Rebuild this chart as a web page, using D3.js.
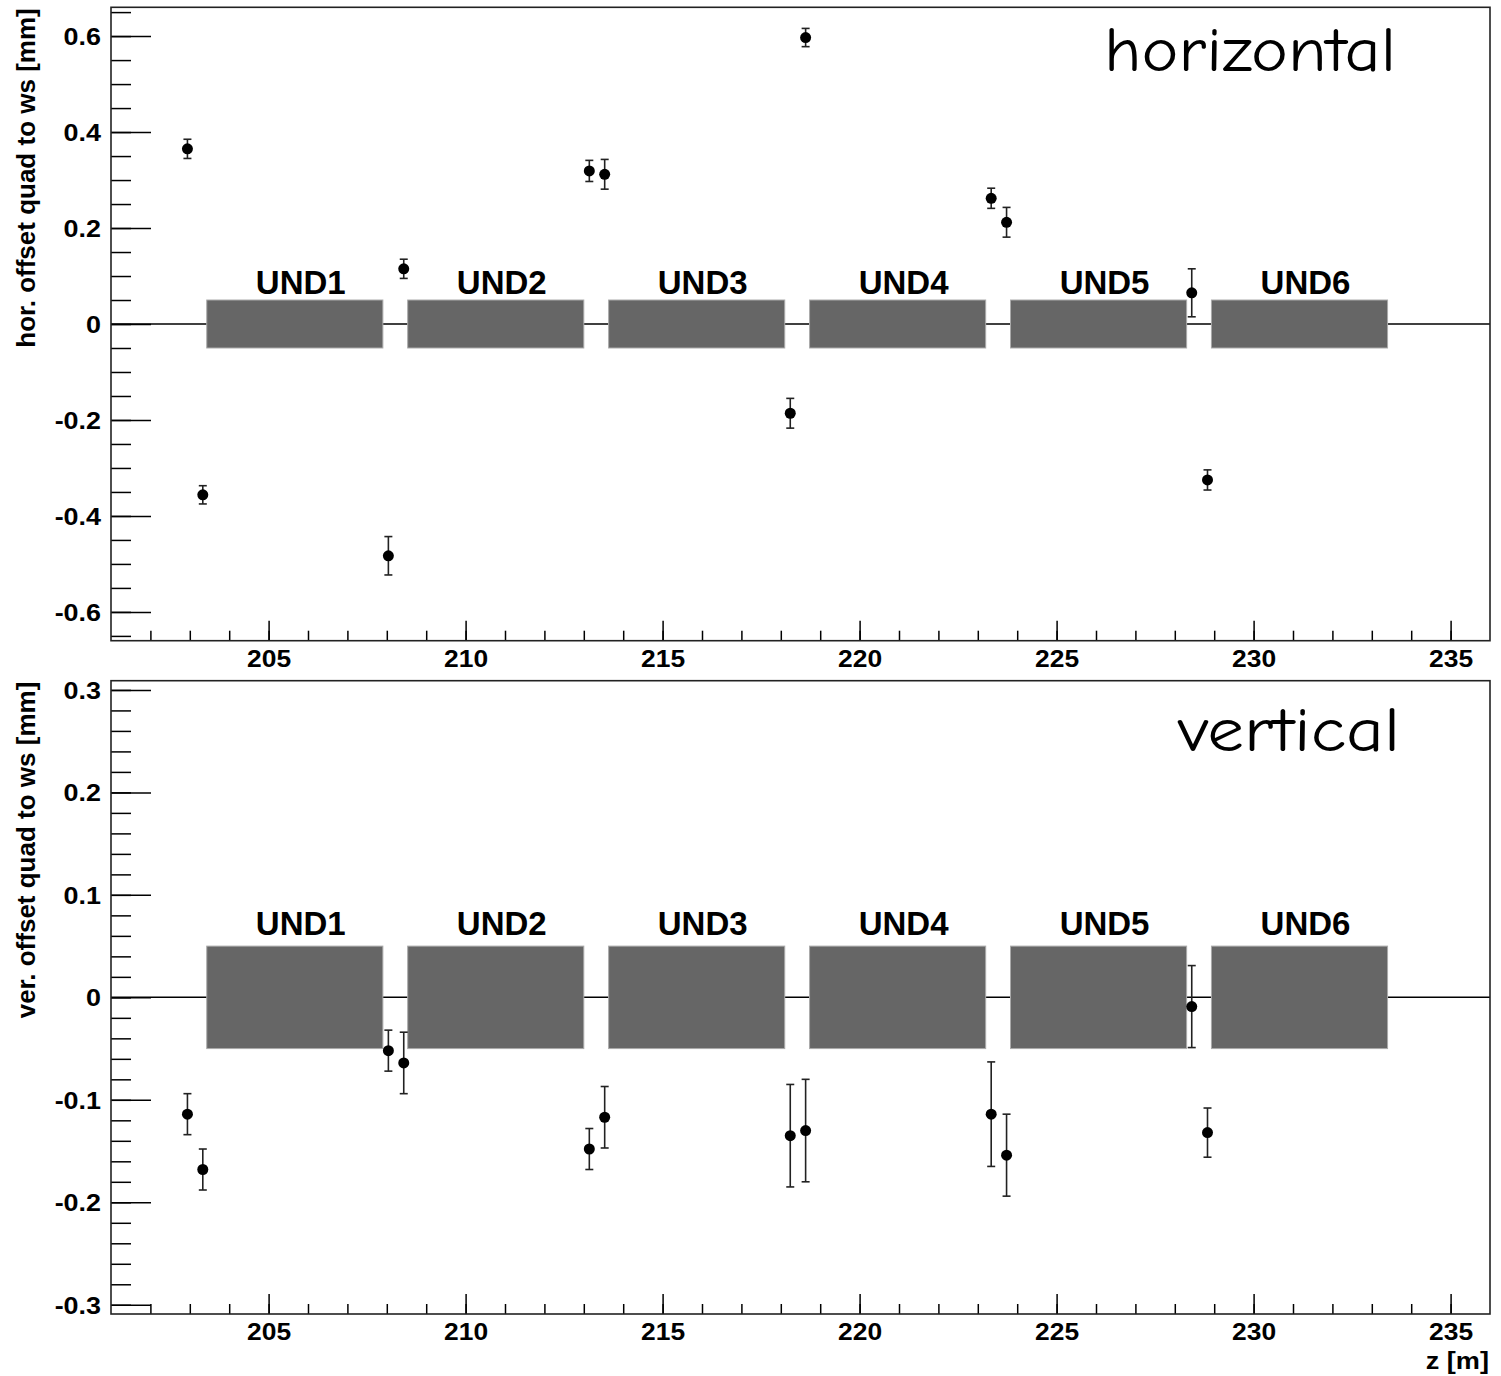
<!DOCTYPE html>
<html><head><meta charset="utf-8">
<script src="https://cdn.jsdelivr.net/npm/d3@7"></script>
<style>body{margin:0;background:#fff}</style>
</head><body>
<svg id="chart" width="1501" height="1376"></svg>
<script>
// Quadrupole positions along the beamline [m]
const zPositions = [202.94, 203.33, 208.04, 208.43, 213.14, 213.53, 218.24, 218.63, 223.34, 223.73, 228.43, 228.83];
// Horizontal offset of quad to wire scanner [mm] and its uncertainty
const horOffset = [0.365, -0.356, -0.483, 0.115, 0.319, 0.312, -0.186, 0.597, 0.262, 0.212, 0.065, -0.325];
const horError  = [0.020, 0.019, 0.040, 0.020, 0.022, 0.031, 0.031, 0.019, 0.021, 0.031, 0.050, 0.021];
// Vertical offset of quad to wire scanner [mm] and its uncertainty
const verOffset = [-0.114, -0.168, -0.052, -0.064, -0.148, -0.117, -0.135, -0.130, -0.114, -0.154, -0.009, -0.132];
const verError  = [0.020, 0.020, 0.020, 0.030, 0.020, 0.030, 0.050, 0.050, 0.051, 0.040, 0.040, 0.024];
// Undulator segments
const undNames = ["UND1", "UND2", "UND3", "UND4", "UND5", "UND6"];
const undStart = [203.43, 208.53, 213.63, 218.73, 223.83, 228.93];
const undEnd   = [207.90, 213.00, 218.10, 223.20, 228.30, 233.40];
const undHalfHeight = 0.05;
// Axis ticks
const zTicks = [205, 210, 215, 220, 225, 230, 235];
const horTicks = [-0.6, -0.4, -0.2, 0, 0.2, 0.4, 0.6];
const verTicks = [-0.3, -0.2, -0.1, 0, 0.1, 0.2, 0.3];

const svg = d3.select("#chart");
const FONT = "'Liberation Sans', Arial, Helvetica, sans-serif";
const left = 111, right = 1490;
const x = d3.scaleLinear().domain([201, 236]).range([left, right]);

const panels = [
  {top: 7.3, bottom: 640.7, domain: [-0.66, 0.66], ticks: horTicks, minorStep: 0.05,
   values: horOffset, errors: horError, title: "hor. offset quad to ws [mm]",
   tag: "horizontal", tagX: 1104, tagY: 71, tagLen: 292, labelGap: 6},
  {top: 680.7, bottom: 1314, domain: [-0.309, 0.309], ticks: verTicks, minorStep: 0.02,
   values: verOffset, errors: verError, title: "ver. offset quad to ws [mm]",
   tag: "vertical", tagX: 1178, tagY: 751, tagLen: 222, labelGap: 11}
];

// plain hyphen for negative tick labels
const fmtY = d => d === 0 ? "0" : d3.format(".1f")(d).replace("\u2212", "-");

panels.forEach(p => {
  const y = d3.scaleLinear().domain(p.domain).range([p.bottom, p.top]);
  const g = svg.append("g");

  // beam axis line at zero offset
  g.append("line")
    .attr("x1", left).attr("x2", right)
    .attr("y1", y(0)).attr("y2", y(0))
    .attr("stroke", "#000").attr("stroke-width", 1.5);

  // undulator blocks with names
  undNames.forEach((name, i) => {
    g.append("rect")
      .attr("x", x(undStart[i])).attr("y", y(undHalfHeight))
      .attr("width", x(undEnd[i]) - x(undStart[i]))
      .attr("height", y(-undHalfHeight) - y(undHalfHeight))
      .attr("fill", "#666").attr("stroke", "#aaa").attr("stroke-width", 1);
    g.append("text")
      .attr("x", (x(undStart[i]) + x(undEnd[i])) / 2 + 6)
      .attr("y", y(undHalfHeight) - p.labelGap)
      .attr("text-anchor", "middle")
      .attr("font-family", FONT).attr("font-weight", "bold").attr("font-size", 33)
      .text(name);
  });

  // error bars
  const pts = zPositions.map((z, i) => ({z, v: p.values[i], e: p.errors[i]}));
  const eb = g.append("g").attr("stroke", "#222").attr("stroke-width", 1.6);
  pts.forEach(d => {
    const cx = x(d.z), y1 = y(d.v + d.e), y2 = y(d.v - d.e);
    eb.append("line").attr("x1", cx).attr("x2", cx).attr("y1", y1).attr("y2", y2);
    eb.append("line").attr("x1", cx - 4).attr("x2", cx + 4).attr("y1", y1).attr("y2", y1);
    eb.append("line").attr("x1", cx - 4).attr("x2", cx + 4).attr("y1", y2).attr("y2", y2);
  });
  // markers
  g.selectAll("circle.pt").data(pts).enter().append("circle")
    .attr("cx", d => x(d.z)).attr("cy", d => y(d.v)).attr("r", 5.5).attr("fill", "#000");

  // y axis: major and minor ticks pointing into the frame
  const minor = d3.range(Math.ceil(p.domain[0] / p.minorStep), Math.floor(p.domain[1] / p.minorStep) + 1)
    .map(k => +(k * p.minorStep).toFixed(4));
  const yMinor = g.append("g").attr("transform", `translate(${left},0)`)
    .call(d3.axisLeft(y).tickValues(minor).tickSize(-20).tickFormat(""));
  const yMajor = g.append("g").attr("transform", `translate(${left},0)`)
    .call(d3.axisLeft(y).tickValues(p.ticks).tickSize(-40).tickFormat(fmtY));
  [yMinor, yMajor].forEach(a => {
    a.select(".domain").remove();
    a.selectAll("line").attr("stroke", "#000").attr("stroke-width", 1.5);
  });
  yMajor.selectAll("text")
    .attr("x", 0).attr("dy", "0.36em")
    .attr("transform", "translate(-10,0) scale(1.17,1)")
    .attr("font-family", FONT).attr("font-weight", "bold").attr("font-size", 23)
    .attr("fill", "#000");

  // x axis
  const zMinor = d3.range(202, 236);
  const xMinor = g.append("g").attr("transform", `translate(0,${p.bottom})`)
    .call(d3.axisBottom(x).tickValues(zMinor).tickSize(-10).tickFormat(""));
  const xMajor = g.append("g").attr("transform", `translate(0,${p.bottom})`)
    .call(d3.axisBottom(x).tickValues(zTicks).tickSize(-20).tickFormat(d3.format("d")));
  [xMinor, xMajor].forEach(a => {
    a.select(".domain").remove();
    a.selectAll("line").attr("stroke", "#000").attr("stroke-width", 1.5);
  });
  xMajor.selectAll("text")
    .attr("y", 0).attr("dy", 0)
    .attr("transform", "translate(0,26) scale(1.1,1)")
    .attr("font-family", FONT).attr("font-weight", "bold").attr("font-size", 24)
    .attr("fill", "#000");

  // frame
  g.append("rect")
    .attr("x", left).attr("y", p.top)
    .attr("width", right - left).attr("height", p.bottom - p.top)
    .attr("fill", "none").attr("stroke", "#222").attr("stroke-width", 1.6);

  // y axis title
  g.append("text")
    .attr("transform", `translate(34.5,${p.top + 1}) rotate(-90)`)
    .attr("text-anchor", "end")
    .attr("font-family", FONT).attr("font-weight", "bold").attr("font-size", 26)
    .text(p.title);

  // panel tag
  g.append("text")
    .attr("x", p.tagX).attr("y", p.tagY)
    .attr("textLength", p.tagLen).attr("lengthAdjust", "spacingAndGlyphs")
    .attr("font-family", "'Comic Sans MS', 'Comic Neue', 'DejaVu Sans', sans-serif")
    .attr("font-size", 62)
    .text(p.tag);
});

// z axis title
svg.append("text")
  .attr("x", 0).attr("y", 0)
  .attr("text-anchor", "end")
  .attr("transform", "translate(1489,1369) scale(1.18,1)")
  .attr("font-family", FONT).attr("font-weight", "bold").attr("font-size", 23)
  .text("z [m]");
</script>
</body></html>
